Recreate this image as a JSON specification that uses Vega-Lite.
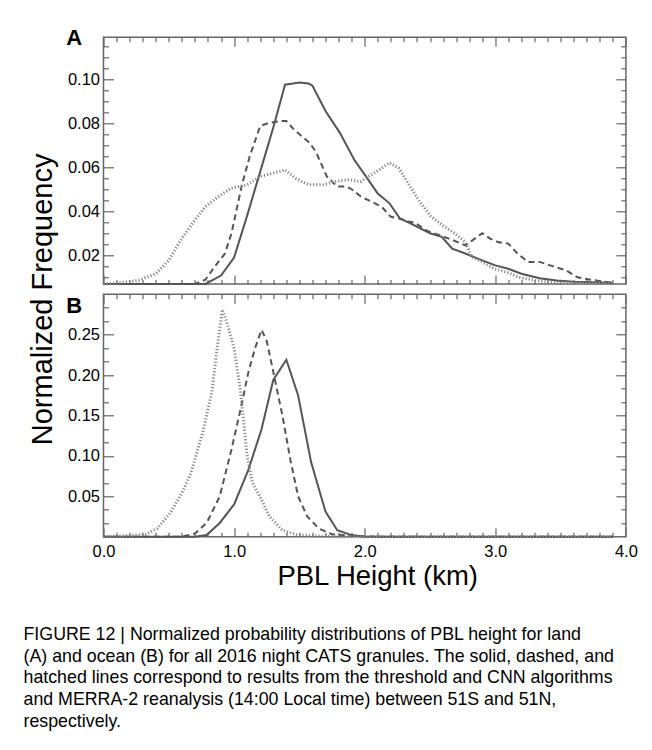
{
  "$schema": "https://vega.github.io/schema/vega-lite/v6.json",
  "padding": {"left": 23.5, "top": 25.3, "right": 5, "bottom": 5},
  "background": "white",
  "bounds": "flush",
  "spacing": 10,
  "config": {
    "view": {"stroke": "#666", "strokeWidth": 1.5},
    "font": "Liberation Sans",
    "axis": {"labelFont": "Liberation Sans", "titleFont": "Liberation Sans", "labelColor": "black", "titleColor": "black", "titleFontWeight": "normal", "labelFontSize": 16.5, "tickColor": "#666", "tickWidth": 1.2, "domain": false, "grid": false}
  },
  "title": {
    "text": ["FIGURE 12 | Normalized probability distributions of PBL height for land", "(A) and ocean (B) for all 2016 night CATS granules. The solid, dashed, and", "hatched lines correspond to results from the threshold and CNN algorithms", "and MERRA-2 reanalysis (14:00 Local time) between 51S and 51N,", "respectively."],
    "orient": "bottom", "anchor": "start", "frame": "group", "font": "Liberation Sans", "fontSize": 17.8, "fontWeight": "normal", "color": "black", "lineHeight": 21.7, "baseline": "top", "dx": -80, "offset": 35
  },
  "data": {"values": [
    {"panel":"A","series":"threshold","h":0,"f":0},{"panel":"A","series":"threshold","h":0.5,"f":0},{"panel":"A","series":"threshold","h":0.78,"f":0.003},{"panel":"A","series":"threshold","h":0.9,"f":0.0108},{"panel":"A","series":"threshold","h":1.0,"f":0.019},{"panel":"A","series":"threshold","h":1.1,"f":0.038},{"panel":"A","series":"threshold","h":1.2,"f":0.058},{"panel":"A","series":"threshold","h":1.3,"f":0.078},{"panel":"A","series":"threshold","h":1.39,"f":0.0975},{"panel":"A","series":"threshold","h":1.45,"f":0.098},{"panel":"A","series":"threshold","h":1.5,"f":0.0985},{"panel":"A","series":"threshold","h":1.57,"f":0.098},{"panel":"A","series":"threshold","h":1.6,"f":0.097},{"panel":"A","series":"threshold","h":1.7,"f":0.0855},{"panel":"A","series":"threshold","h":1.81,"f":0.0756},{"panel":"A","series":"threshold","h":1.92,"f":0.0634},{"panel":"A","series":"threshold","h":2.0,"f":0.0566},{"panel":"A","series":"threshold","h":2.1,"f":0.048},{"panel":"A","series":"threshold","h":2.19,"f":0.0436},{"panel":"A","series":"threshold","h":2.27,"f":0.0367},{"panel":"A","series":"threshold","h":2.35,"f":0.0345},{"panel":"A","series":"threshold","h":2.5,"f":0.03},{"panel":"A","series":"threshold","h":2.59,"f":0.0284},{"panel":"A","series":"threshold","h":2.67,"f":0.023},{"panel":"A","series":"threshold","h":2.77,"f":0.0208},{"panel":"A","series":"threshold","h":2.9,"f":0.0177},{"panel":"A","series":"threshold","h":3.0,"f":0.0154},{"panel":"A","series":"threshold","h":3.1,"f":0.0139},{"panel":"A","series":"threshold","h":3.2,"f":0.0116},{"panel":"A","series":"threshold","h":3.34,"f":0.0096},{"panel":"A","series":"threshold","h":3.47,"f":0.0085},{"panel":"A","series":"threshold","h":3.6,"f":0.008},{"panel":"A","series":"threshold","h":3.75,"f":0.0077},{"panel":"A","series":"threshold","h":3.9,"f":0.0075},
    {"panel":"A","series":"CNN","h":0,"f":0},{"panel":"A","series":"CNN","h":0.7,"f":0.004},{"panel":"A","series":"CNN","h":0.78,"f":0.0089},{"panel":"A","series":"CNN","h":0.85,"f":0.0147},{"panel":"A","series":"CNN","h":0.93,"f":0.0208},{"panel":"A","series":"CNN","h":0.98,"f":0.03},{"panel":"A","series":"CNN","h":1.06,"f":0.052},{"panel":"A","series":"CNN","h":1.12,"f":0.065},{"panel":"A","series":"CNN","h":1.2,"f":0.0787},{"panel":"A","series":"CNN","h":1.26,"f":0.08},{"panel":"A","series":"CNN","h":1.36,"f":0.081},{"panel":"A","series":"CNN","h":1.4,"f":0.081},{"panel":"A","series":"CNN","h":1.46,"f":0.077},{"panel":"A","series":"CNN","h":1.58,"f":0.071},{"panel":"A","series":"CNN","h":1.63,"f":0.0665},{"panel":"A","series":"CNN","h":1.71,"f":0.0558},{"panel":"A","series":"CNN","h":1.79,"f":0.0512},{"panel":"A","series":"CNN","h":1.86,"f":0.0512},{"panel":"A","series":"CNN","h":1.9,"f":0.05},{"panel":"A","series":"CNN","h":1.97,"f":0.0467},{"panel":"A","series":"CNN","h":2.05,"f":0.0444},{"panel":"A","series":"CNN","h":2.13,"f":0.042},{"panel":"A","series":"CNN","h":2.2,"f":0.0375},{"panel":"A","series":"CNN","h":2.26,"f":0.0368},{"panel":"A","series":"CNN","h":2.34,"f":0.0352},{"panel":"A","series":"CNN","h":2.38,"f":0.035},{"panel":"A","series":"CNN","h":2.48,"f":0.031},{"panel":"A","series":"CNN","h":2.58,"f":0.029},{"panel":"A","series":"CNN","h":2.67,"f":0.027},{"panel":"A","series":"CNN","h":2.77,"f":0.0245},{"panel":"A","series":"CNN","h":2.83,"f":0.027},{"panel":"A","series":"CNN","h":2.9,"f":0.03},{"panel":"A","series":"CNN","h":2.96,"f":0.0276},{"panel":"A","series":"CNN","h":3.02,"f":0.026},{"panel":"A","series":"CNN","h":3.1,"f":0.0253},{"panel":"A","series":"CNN","h":3.17,"f":0.0208},{"panel":"A","series":"CNN","h":3.25,"f":0.017},{"panel":"A","series":"CNN","h":3.34,"f":0.017},{"panel":"A","series":"CNN","h":3.42,"f":0.0154},{"panel":"A","series":"CNN","h":3.54,"f":0.0132},{"panel":"A","series":"CNN","h":3.63,"f":0.01},{"panel":"A","series":"CNN","h":3.73,"f":0.0089},{"panel":"A","series":"CNN","h":3.86,"f":0.0078},{"panel":"A","series":"CNN","h":3.9,"f":0.0075},
    {"panel":"A","series":"MERRA-2","h":0,"f":0},{"panel":"A","series":"MERRA-2","h":0.11,"f":0.0075},{"panel":"A","series":"MERRA-2","h":0.27,"f":0.0086},{"panel":"A","series":"MERRA-2","h":0.4,"f":0.0116},{"panel":"A","series":"MERRA-2","h":0.5,"f":0.0177},{"panel":"A","series":"MERRA-2","h":0.59,"f":0.0268},{"panel":"A","series":"MERRA-2","h":0.69,"f":0.0352},{"panel":"A","series":"MERRA-2","h":0.78,"f":0.042},{"panel":"A","series":"MERRA-2","h":0.88,"f":0.0467},{"panel":"A","series":"MERRA-2","h":0.98,"f":0.0505},{"panel":"A","series":"MERRA-2","h":1.1,"f":0.052},{"panel":"A","series":"MERRA-2","h":1.2,"f":0.0558},{"panel":"A","series":"MERRA-2","h":1.3,"f":0.0573},{"panel":"A","series":"MERRA-2","h":1.39,"f":0.0588},{"panel":"A","series":"MERRA-2","h":1.47,"f":0.055},{"panel":"A","series":"MERRA-2","h":1.57,"f":0.052},{"panel":"A","series":"MERRA-2","h":1.68,"f":0.052},{"panel":"A","series":"MERRA-2","h":1.78,"f":0.0535},{"panel":"A","series":"MERRA-2","h":1.87,"f":0.0543},{"panel":"A","series":"MERRA-2","h":1.97,"f":0.0535},{"panel":"A","series":"MERRA-2","h":2.03,"f":0.0558},{"panel":"A","series":"MERRA-2","h":2.11,"f":0.0588},{"panel":"A","series":"MERRA-2","h":2.19,"f":0.062},{"panel":"A","series":"MERRA-2","h":2.26,"f":0.0596},{"panel":"A","series":"MERRA-2","h":2.34,"f":0.052},{"panel":"A","series":"MERRA-2","h":2.42,"f":0.0444},{"panel":"A","series":"MERRA-2","h":2.51,"f":0.0375},{"panel":"A","series":"MERRA-2","h":2.61,"f":0.033},{"panel":"A","series":"MERRA-2","h":2.69,"f":0.03},{"panel":"A","series":"MERRA-2","h":2.77,"f":0.026},{"panel":"A","series":"MERRA-2","h":2.82,"f":0.0193},{"panel":"A","series":"MERRA-2","h":2.9,"f":0.017},{"panel":"A","series":"MERRA-2","h":2.99,"f":0.0139},{"panel":"A","series":"MERRA-2","h":3.09,"f":0.0123},{"panel":"A","series":"MERRA-2","h":3.18,"f":0.01},{"panel":"A","series":"MERRA-2","h":3.31,"f":0.0086},{"panel":"A","series":"MERRA-2","h":3.47,"f":0.0075},{"panel":"A","series":"MERRA-2","h":3.9,"f":0.0072},
    {"panel":"B","series":"threshold","h":0,"f":0},{"panel":"B","series":"threshold","h":0.7,"f":0},{"panel":"B","series":"threshold","h":0.79,"f":0.002},{"panel":"B","series":"threshold","h":0.89,"f":0.017},{"panel":"B","series":"threshold","h":1.0,"f":0.04},{"panel":"B","series":"threshold","h":1.11,"f":0.083},{"panel":"B","series":"threshold","h":1.21,"f":0.133},{"panel":"B","series":"threshold","h":1.3,"f":0.194},{"panel":"B","series":"threshold","h":1.4,"f":0.219},{"panel":"B","series":"threshold","h":1.49,"f":0.175},{"panel":"B","series":"threshold","h":1.59,"f":0.092},{"panel":"B","series":"threshold","h":1.7,"f":0.031},{"panel":"B","series":"threshold","h":1.79,"f":0.008},{"panel":"B","series":"threshold","h":1.9,"f":0.002},{"panel":"B","series":"threshold","h":2.0,"f":0},{"panel":"B","series":"threshold","h":3.9,"f":0},
    {"panel":"B","series":"CNN","h":0,"f":0},{"panel":"B","series":"CNN","h":0.6,"f":0},{"panel":"B","series":"CNN","h":0.7,"f":0.004},{"panel":"B","series":"CNN","h":0.79,"f":0.017},{"panel":"B","series":"CNN","h":0.89,"f":0.05},{"panel":"B","series":"CNN","h":0.98,"f":0.108},{"panel":"B","series":"CNN","h":1.05,"f":0.158},{"panel":"B","series":"CNN","h":1.11,"f":0.204},{"panel":"B","series":"CNN","h":1.16,"f":0.233},{"panel":"B","series":"CNN","h":1.21,"f":0.256},{"panel":"B","series":"CNN","h":1.25,"f":0.242},{"panel":"B","series":"CNN","h":1.3,"f":0.204},{"panel":"B","series":"CNN","h":1.37,"f":0.15},{"panel":"B","series":"CNN","h":1.43,"f":0.096},{"panel":"B","series":"CNN","h":1.49,"f":0.05},{"panel":"B","series":"CNN","h":1.56,"f":0.025},{"panel":"B","series":"CNN","h":1.65,"f":0.01},{"panel":"B","series":"CNN","h":1.75,"f":0.003},{"panel":"B","series":"CNN","h":1.9,"f":0.001},{"panel":"B","series":"CNN","h":2.1,"f":0},{"panel":"B","series":"CNN","h":3.9,"f":0},
    {"panel":"B","series":"MERRA-2","h":0,"f":0},{"panel":"B","series":"MERRA-2","h":0.16,"f":0.001},{"panel":"B","series":"MERRA-2","h":0.32,"f":0.003},{"panel":"B","series":"MERRA-2","h":0.41,"f":0.01},{"panel":"B","series":"MERRA-2","h":0.51,"f":0.029},{"panel":"B","series":"MERRA-2","h":0.6,"f":0.054},{"panel":"B","series":"MERRA-2","h":0.67,"f":0.079},{"panel":"B","series":"MERRA-2","h":0.76,"f":0.129},{"panel":"B","series":"MERRA-2","h":0.83,"f":0.179},{"panel":"B","series":"MERRA-2","h":0.87,"f":0.233},{"panel":"B","series":"MERRA-2","h":0.91,"f":0.281},{"panel":"B","series":"MERRA-2","h":0.95,"f":0.2625},{"panel":"B","series":"MERRA-2","h":1.0,"f":0.233},{"panel":"B","series":"MERRA-2","h":1.05,"f":0.179},{"panel":"B","series":"MERRA-2","h":1.1,"f":0.1},{"panel":"B","series":"MERRA-2","h":1.14,"f":0.067},{"panel":"B","series":"MERRA-2","h":1.21,"f":0.046},{"panel":"B","series":"MERRA-2","h":1.27,"f":0.025},{"panel":"B","series":"MERRA-2","h":1.37,"f":0.008},{"panel":"B","series":"MERRA-2","h":1.49,"f":0.002},{"panel":"B","series":"MERRA-2","h":1.75,"f":0},{"panel":"B","series":"MERRA-2","h":3.9,"f":0}
  ]},
  "vconcat": [
    {
      "width": 522.4,
      "height": 246.6,
      "title": {"text": "A", "anchor": "start", "frame": "group", "fontSize": 22, "fontWeight": "bold", "font": "Liberation Sans", "color": "black", "offset": 0, "baseline": "alphabetic", "dx": -37.3, "dy": 30.2},
      "transform": [{"filter": "datum.panel === 'A'"}],
      "resolve": {"axis": {"x": "independent", "y": "independent"}},
      "layer": [
        {
          "transform": [{"filter": "datum.series === 'threshold'"}],
          "mark": {"type": "line", "color": "#555", "strokeWidth": 2},
          "encoding": {
            "x": {"field": "h", "type": "quantitative", "scale": {"domain": [0, 4], "nice": false, "zero": false, "clamp": true},
              "axis": {"orient": "bottom", "values": [0,0.1,0.2,0.3,0.4,0.5,0.6,0.7,0.8,0.9,1,1.1,1.2,1.3,1.4,1.5,1.6,1.7,1.8,1.9,2,2.1,2.2,2.3,2.4,2.5,2.6,2.7,2.8,2.9,3,3.1,3.2,3.3,3.4,3.5,3.6,3.7,3.8,3.9,4], "labels": false, "title": null,
                "tickSize": {"condition": {"test": "abs(datum.value - round(datum.value)) < 0.001", "value": -9}, "value": -4.5}}},
            "y": {"field": "f", "type": "quantitative", "scale": {"domain": [0.007, 0.119], "nice": false, "zero": false, "clamp": true},
              "axis": {"orient": "left", "values": [0.01,0.015,0.02,0.025,0.03,0.035,0.04,0.045,0.05,0.055,0.06,0.065,0.07,0.075,0.08,0.085,0.09,0.095,0.1,0.105,0.11,0.115],
                "labelExpr": "abs(datum.value*50 - round(datum.value*50)) < 0.001 ? format(datum.value, '.2f') : ''",
                "tickSize": {"condition": {"test": "abs(datum.value*50 - round(datum.value*50)) < 0.001", "value": -10}, "value": -5},
                "labelPadding": 14,
                "title": "Normalized Frequency", "titleFontSize": 29, "titleX": -52, "titleY": 261.6, "titleAngle": 270, "titleAlign": "center", "titleBaseline": "alphabetic"}}
          }
        },
        {
          "transform": [{"filter": "datum.series === 'CNN'"}],
          "mark": {"type": "line", "color": "#555", "strokeWidth": 2, "strokeDash": [6, 4]},
          "encoding": {
            "x": {"field": "h", "type": "quantitative", "scale": {"domain": [0, 4], "nice": false, "zero": false, "clamp": true},
              "axis": {"orient": "top", "values": [0,0.1,0.2,0.3,0.4,0.5,0.6,0.7,0.8,0.9,1,1.1,1.2,1.3,1.4,1.5,1.6,1.7,1.8,1.9,2,2.1,2.2,2.3,2.4,2.5,2.6,2.7,2.8,2.9,3,3.1,3.2,3.3,3.4,3.5,3.6,3.7,3.8,3.9,4], "labels": false, "title": null,
                "tickSize": {"condition": {"test": "abs(datum.value - round(datum.value)) < 0.001", "value": -9}, "value": -4.5}}},
            "y": {"field": "f", "type": "quantitative", "scale": {"domain": [0.007, 0.119], "nice": false, "zero": false, "clamp": true},
              "axis": {"orient": "right", "values": [0.01,0.015,0.02,0.025,0.03,0.035,0.04,0.045,0.05,0.055,0.06,0.065,0.07,0.075,0.08,0.085,0.09,0.095,0.1,0.105,0.11,0.115], "labels": false, "title": null,
                "tickSize": {"condition": {"test": "abs(datum.value*50 - round(datum.value*50)) < 0.001", "value": -10}, "value": -5}}}
          }
        },
        {
          "transform": [{"filter": "datum.series === 'MERRA-2'"}],
          "mark": {"type": "line", "color": "#888", "strokeWidth": 3, "strokeDash": [1.2, 2]},
          "encoding": {
            "x": {"field": "h", "type": "quantitative", "scale": {"domain": [0, 4], "nice": false, "zero": false, "clamp": true}, "axis": null},
            "y": {"field": "f", "type": "quantitative", "scale": {"domain": [0.007, 0.119], "nice": false, "zero": false, "clamp": true}, "axis": null}
          }
        }
      ]
    },
    {
      "width": 522.4,
      "height": 242.4,
      "title": {"text": "B", "anchor": "start", "frame": "group", "fontSize": 22, "fontWeight": "bold", "font": "Liberation Sans", "color": "black", "offset": 0, "baseline": "alphabetic", "dx": -37.3, "dy": 41.4},
      "transform": [{"filter": "datum.panel === 'B'"}],
      "resolve": {"axis": {"x": "independent", "y": "independent"}},
      "layer": [
        {
          "transform": [{"filter": "datum.series === 'threshold'"}],
          "mark": {"type": "line", "color": "#555", "strokeWidth": 2},
          "encoding": {
            "x": {"field": "h", "type": "quantitative", "scale": {"domain": [0, 4], "nice": false, "zero": false, "clamp": true},
              "axis": {"orient": "bottom", "values": [0,0.1,0.2,0.3,0.4,0.5,0.6,0.7,0.8,0.9,1,1.1,1.2,1.3,1.4,1.5,1.6,1.7,1.8,1.9,2,2.1,2.2,2.3,2.4,2.5,2.6,2.7,2.8,2.9,3,3.1,3.2,3.3,3.4,3.5,3.6,3.7,3.8,3.9,4],
                "labelExpr": "abs(datum.value - round(datum.value)) < 0.001 ? format(datum.value, '.1f') : ''",
                "labelPadding": 16, "labelFlush": false,
                "tickSize": {"condition": {"test": "abs(datum.value - round(datum.value)) < 0.001", "value": -9}, "value": -4.5},
                "title": "PBL Height (km)", "titleFontSize": 27.5, "titleX": 273.7, "titleY": 48, "titleAlign": "center", "titleBaseline": "alphabetic"}},
            "y": {"field": "f", "type": "quantitative", "scale": {"domain": [0, 0.3], "nice": false, "zero": false, "clamp": true},
              "axis": {"orient": "left", "values": [0.016667,0.033333,0.05,0.066667,0.083333,0.1,0.116667,0.133333,0.15,0.166667,0.183333,0.2,0.216667,0.233333,0.25,0.266667,0.283333],
                "labelExpr": "abs(datum.value*20 - round(datum.value*20)) < 0.001 ? format(datum.value, '.2f') : ''",
                "tickSize": {"condition": {"test": "abs(datum.value*20 - round(datum.value*20)) < 0.001", "value": -10}, "value": -5},
                "labelPadding": 14, "title": null}}
          }
        },
        {
          "transform": [{"filter": "datum.series === 'CNN'"}],
          "mark": {"type": "line", "color": "#555", "strokeWidth": 2, "strokeDash": [6, 4]},
          "encoding": {
            "x": {"field": "h", "type": "quantitative", "scale": {"domain": [0, 4], "nice": false, "zero": false, "clamp": true},
              "axis": {"orient": "top", "values": [0,0.1,0.2,0.3,0.4,0.5,0.6,0.7,0.8,0.9,1,1.1,1.2,1.3,1.4,1.5,1.6,1.7,1.8,1.9,2,2.1,2.2,2.3,2.4,2.5,2.6,2.7,2.8,2.9,3,3.1,3.2,3.3,3.4,3.5,3.6,3.7,3.8,3.9,4], "labels": false, "title": null,
                "tickSize": {"condition": {"test": "abs(datum.value - round(datum.value)) < 0.001", "value": -9}, "value": -4.5}}},
            "y": {"field": "f", "type": "quantitative", "scale": {"domain": [0, 0.3], "nice": false, "zero": false, "clamp": true},
              "axis": {"orient": "right", "values": [0.016667,0.033333,0.05,0.066667,0.083333,0.1,0.116667,0.133333,0.15,0.166667,0.183333,0.2,0.216667,0.233333,0.25,0.266667,0.283333], "labels": false, "title": null,
                "tickSize": {"condition": {"test": "abs(datum.value*20 - round(datum.value*20)) < 0.001", "value": -10}, "value": -5}}}
          }
        },
        {
          "transform": [{"filter": "datum.series === 'MERRA-2'"}],
          "mark": {"type": "line", "color": "#888", "strokeWidth": 3, "strokeDash": [1.2, 2]},
          "encoding": {
            "x": {"field": "h", "type": "quantitative", "scale": {"domain": [0, 4], "nice": false, "zero": false, "clamp": true}, "axis": null},
            "y": {"field": "f", "type": "quantitative", "scale": {"domain": [0, 0.3], "nice": false, "zero": false, "clamp": true}, "axis": null}
          }
        }
      ]
    }
  ]
}
